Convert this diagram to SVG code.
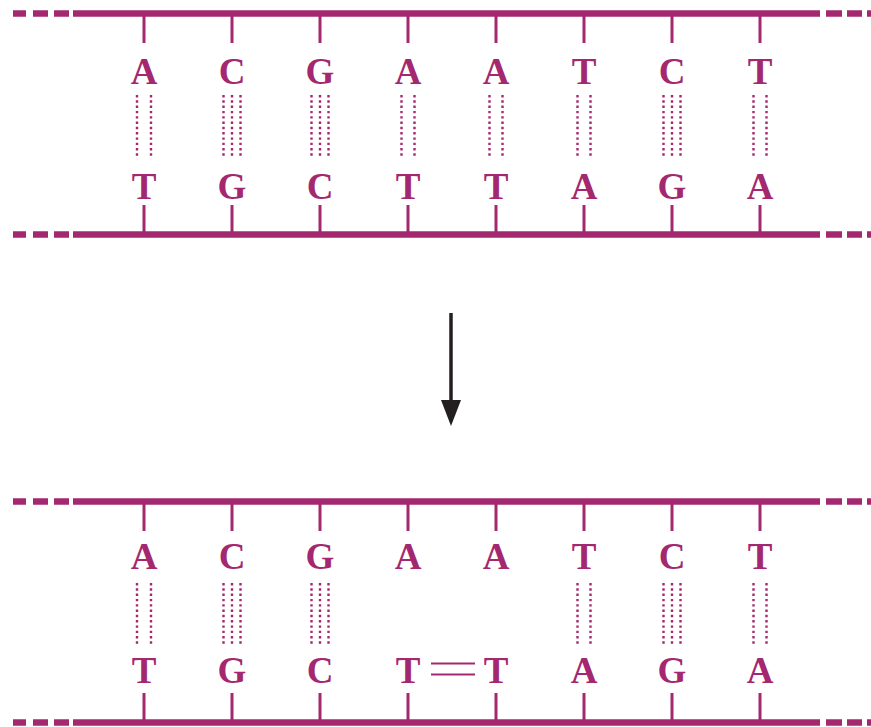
<svg xmlns="http://www.w3.org/2000/svg" width="871" height="727" viewBox="0 0 871 727">
<style>
.strand{stroke:#a3286f;stroke-width:6.5;fill:none}
.tick{stroke:#a3286f;stroke-width:3;fill:none}
.dots{stroke:#a3286f;stroke-width:2.4;stroke-dasharray:2.4 2.9;fill:none}
.base{font-family:"Liberation Serif","Times New Roman",serif;font-weight:bold;font-size:37px;fill:#a3286f;text-anchor:middle}
.dbl{stroke:#a3286f;stroke-width:2;fill:none}
</style>
<defs>
<marker id="ah" viewBox="0 0 10 10" refX="10" refY="5" markerWidth="6" markerHeight="8" markerUnits="userSpaceOnUse" orient="auto">
<path d="M0,0 L10,5 L0,10 z" fill="#231f20"/>
</marker>
<g id="strandTop">
<path class="strand" d="M73,0 H820 M13,0 H26 M33,0 H48 M54,0 H69 M826,0 H842 M847,0 H862 M867,0 H871"/>
</g>
</defs>
<g id="connectors">
<line x1="451" y1="313" x2="451" y2="402" stroke="#231f20" stroke-width="3.5"/>
<path d="M441,400 L451,426 L461,400 Z" fill="#231f20"/>
</g>
<g id="duplex-before">
<use href="#strandTop" y="13.5"/>
<use href="#strandTop" y="234.5"/>
<g class="tick-group">
<path class="tick" d="M144,13 V43 M232,13 V43 M320,13 V43 M408,13 V43 M496,13 V43 M584,13 V43 M672,13 V43 M760,13 V43"/>
<path class="tick" d="M144,205 V234 M232,205 V234 M320,205 V234 M408,205 V234 M496,205 V234 M584,205 V234 M672,205 V234 M760,205 V234"/>
</g>
<path class="dots" d="M137,95 V158 M151,95 V158 M223.5,95 V158 M232,95 V158 M240.5,95 V158 M311.5,95 V158 M320,95 V158 M328.5,95 V158 M401.5,95 V158 M414.5,95 V158 M489.5,95 V158 M502.5,95 V158 M577.5,95 V158 M590.5,95 V158 M663.5,95 V158 M672,95 V158 M680.5,95 V158 M753.5,95 V158 M766.5,95 V158"/>
<g id="top-bases-1">
<text class="base" x="144" y="84">A</text>
<text class="base" x="232" y="84">C</text>
<text class="base" x="320" y="84">G</text>
<text class="base" x="408" y="84">A</text>
<text class="base" x="496" y="84">A</text>
<text class="base" x="584" y="84">T</text>
<text class="base" x="672" y="84">C</text>
<text class="base" x="760" y="84">T</text>
</g>
<g id="bottom-bases-1">
<text class="base" x="144" y="199">T</text>
<text class="base" x="232" y="199">G</text>
<text class="base" x="320" y="199">C</text>
<text class="base" x="408" y="199">T</text>
<text class="base" x="496" y="199">T</text>
<text class="base" x="584" y="199">A</text>
<text class="base" x="672" y="199">G</text>
<text class="base" x="760" y="199">A</text>
</g>
</g>
<g id="duplex-after">
<use href="#strandTop" y="501.5"/>
<use href="#strandTop" y="722.5"/>
<path class="tick" d="M144,501 V531 M232,501 V531 M320,501 V531 M408,501 V531 M496,501 V531 M584,501 V531 M672,501 V531 M760,501 V531"/>
<path class="tick" d="M144,693 V722 M232,693 V722 M320,693 V722 M408,693 V722 M496,693 V722 M584,693 V722 M672,693 V722 M760,693 V722"/>
<path class="dots" d="M137,583 V646 M151,583 V646 M223.5,583 V646 M232,583 V646 M240.5,583 V646 M311.5,583 V646 M320,583 V646 M328.5,583 V646 M577.5,583 V646 M590.5,583 V646 M663.5,583 V646 M672,583 V646 M680.5,583 V646 M753.5,583 V646 M766.5,583 V646"/>
<g id="top-bases-2">
<text class="base" x="144" y="569">A</text>
<text class="base" x="232" y="569">C</text>
<text class="base" x="320" y="569">G</text>
<text class="base" x="408" y="569">A</text>
<text class="base" x="496" y="569">A</text>
<text class="base" x="584" y="569">T</text>
<text class="base" x="672" y="569">C</text>
<text class="base" x="760" y="569">T</text>
</g>
<g id="bottom-bases-2">
<text class="base" x="144" y="683">T</text>
<text class="base" x="232" y="683">G</text>
<text class="base" x="320" y="683">C</text>
<text class="base" x="408" y="683">T</text>
<text class="base" x="496" y="683">T</text>
<text class="base" x="584" y="683">A</text>
<text class="base" x="672" y="683">G</text>
<text class="base" x="760" y="683">A</text>
</g>
<path id="dimer-bond" class="dbl" d="M431,663.5 H475 M431,674.5 H475"/>
</g>
</svg>
